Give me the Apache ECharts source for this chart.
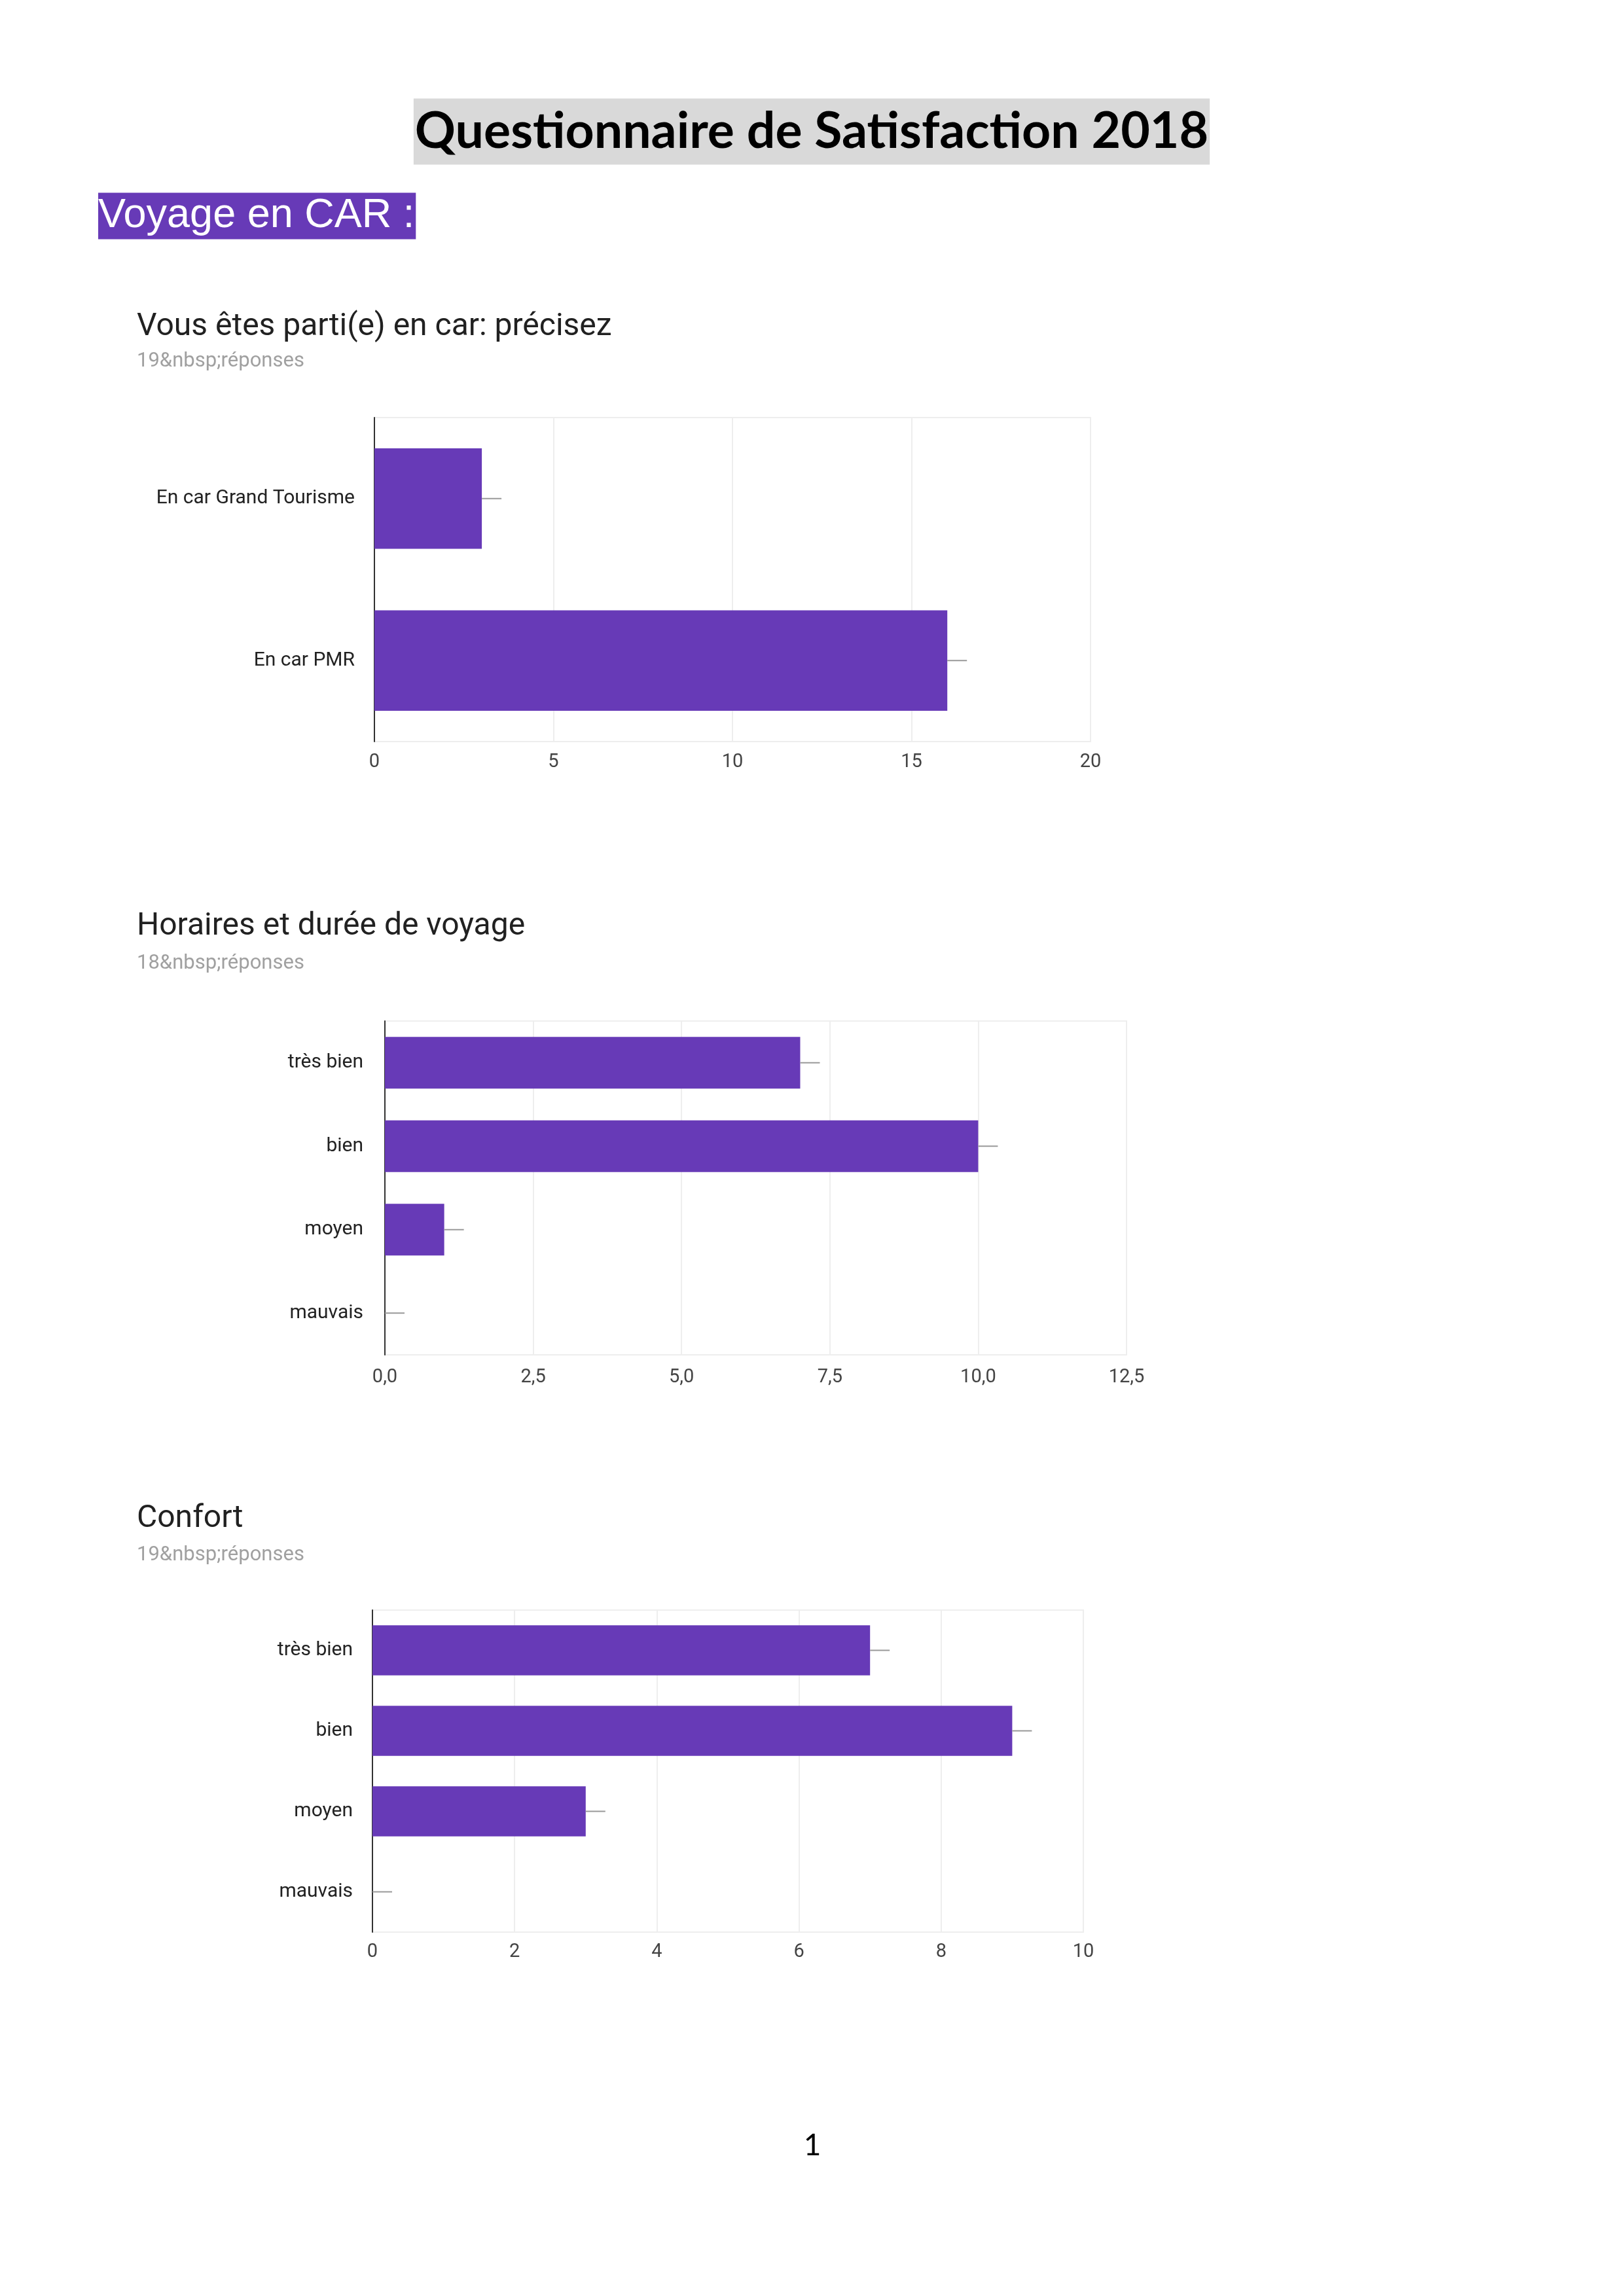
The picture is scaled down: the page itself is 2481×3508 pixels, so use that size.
<!DOCTYPE html>
<html>
<head>
<meta charset="utf-8">
<title>Questionnaire de Satisfaction 2018</title>
<script src="https://cdn.jsdelivr.net/npm/echarts@6/dist/echarts.min.js"></script>
<style>
  html, body { margin: 0; padding: 0; background: #fff; }
  #page { width: 2481px; height: 3508px; }
</style>
</head>
<body>
<div id="page"></div>
<script>
var car_categories = ['En car Grand Tourisme', 'En car PMR'];
var car_values = [3, 16];
var car_ticks = { max: 20, interval: 5 };

var horaires_categories = ['très bien', 'bien', 'moyen', 'mauvais'];
var horaires_values = [7, 10, 1, 0];
var horaires_ticks = { max: 12.5, interval: 2.5 };

var confort_categories = ['très bien', 'bien', 'moyen', 'mauvais'];
var confort_values = [7, 9, 3, 0];
var confort_ticks = { max: 10, interval: 2 };

var titres = ['Vous êtes parti(e) en car: précisez', 'Horaires et durée de voyage', 'Confort'];
var reponses = ['19&nbsp;réponses', '18&nbsp;réponses', '19&nbsp;réponses'];

var violet = '#673ab7';
var roboto = 'Roboto, "Noto Sans", sans-serif';

var myChart = echarts.init(document.getElementById('page'), null, { renderer: 'canvas' });

// cadre de chaque graphe
var grids = [
    { left: 572, top: 638, width: 1094, height: 495 },
    { left: 588, top: 1560, width: 1133, height: 510 },
    { left: 569, top: 2460, width: 1086, height: 492 }
];
var labelMargins = [17, 20, 16];
var catMargins = [30, 33, 30];
var ticks = [car_ticks, horaires_ticks, confort_ticks];
var cats = [car_categories, horaires_categories, confort_categories];
var vals = [car_values, horaires_values, confort_values];

var xAxes = [], yAxes = [], series = [];
for (var i = 0; i < 3; i++) {
    grids[i].show = true;
    grids[i].borderColor = '#eeeeee';
    grids[i].borderWidth = 2;
    grids[i].backgroundColor = 'transparent';
    xAxes.push({
        type: 'value',
        gridIndex: i,
        min: 0,
        max: ticks[i].max,
        interval: ticks[i].interval,
        axisLine: { show: false },
        axisTick: { show: false },
        splitLine: { show: true, lineStyle: { color: '#eeeeee', width: 2 } },
        axisLabel: {
            margin: labelMargins[i],
            color: '#444',
            fontSize: 29,
            fontFamily: roboto,
            formatter: i === 1 ? function (v) { return v.toFixed(1).replace('.', ','); } : '{value}'
        }
    });
    yAxes.push({
        type: 'category',
        gridIndex: i,
        data: cats[i],
        inverse: true,
        axisLine: { show: true, lineStyle: { color: '#333', width: 2 } },
        axisTick: { show: false },
        splitLine: { show: false },
        axisLabel: { margin: catMargins[i], color: '#222', fontSize: 30, fontFamily: roboto }
    });
    series.push({
        type: 'bar',
        xAxisIndex: i,
        yAxisIndex: i,
        data: vals[i],
        barCategoryGap: '38%',
        itemStyle: { color: violet },
        silent: true,
        z: 2
    });
    // petits traits gris au bout des barres
    series.push({
        type: 'custom',
        xAxisIndex: i,
        yAxisIndex: i,
        data: vals[i].map(function (v, k) { return [v, k]; }),
        encode: { x: 0, y: 1 },
        silent: true,
        z: 3,
        renderItem: function (params, api) {
            var p = api.coord([api.value(0), api.value(1)]);
            return {
                type: 'line',
                shape: { x1: p[0], y1: p[1], x2: p[0] + 30, y2: p[1] },
                style: { stroke: '#999', lineWidth: 2 }
            };
        }
    });
}

var titleY = [500, 1416, 2321];
var subY = [552, 1472, 2376];
var graphics = [
    {
        type: 'text', x: 1240, y: 201,
        style: {
            text: 'Questionnaire de Satisfaction 2018',
            font: 'bold 77px Lato, "Open Sans", sans-serif',
            fill: '#000',
            align: 'center', verticalAlign: 'middle',
            backgroundColor: '#d9d9d9',
            padding: [13, 2, 11, 2]
        }
    },
    {
        type: 'text', x: 150, y: 330,
        style: {
            text: 'Voyage en CAR :',
            font: '63px "Liberation Sans", Arial, sans-serif',
            fill: '#fff',
            align: 'left', verticalAlign: 'middle',
            backgroundColor: violet,
            padding: [4, 2, 4, 0]
        }
    },
    {
        type: 'text', x: 1241, y: 3278,
        style: { text: '1', font: '46px Lato, sans-serif', fill: '#000', align: 'center', verticalAlign: 'middle' }
    }
];
for (var j = 0; j < 3; j++) {
    graphics.push({
        type: 'text', x: 209, y: titleY[j],
        style: { text: titres[j], font: '48px ' + roboto, fill: '#212121', align: 'left', verticalAlign: 'middle' }
    });
    graphics.push({
        type: 'text', x: 209, y: subY[j],
        style: { text: reponses[j], font: '31px ' + roboto, fill: '#a0a0a0', align: 'left', verticalAlign: 'middle' }
    });
}

var option = {
    backgroundColor: '#fff',
    animation: false,
    grid: grids,
    xAxis: xAxes,
    yAxis: yAxes,
    series: series,
    graphic: graphics
};
myChart.setOption(option);
</script>
</body>
</html>
